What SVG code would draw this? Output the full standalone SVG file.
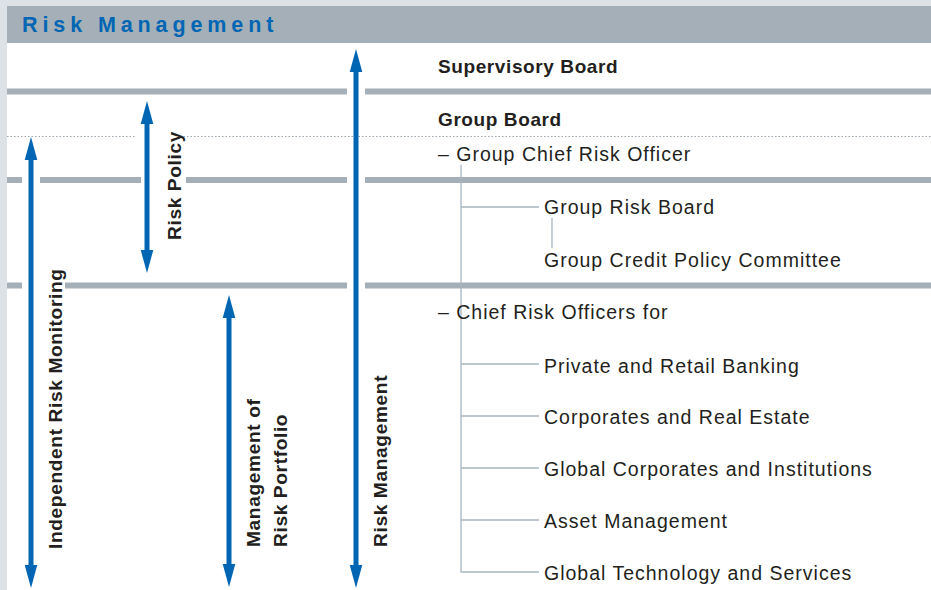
<svg xmlns="http://www.w3.org/2000/svg" width="931" height="590" viewBox="0 0 931 590">
<style>
.bar{fill:#a4afb7}
.t{font-family:"Liberation Sans",Arial,sans-serif;font-size:19.5px;fill:#231f20;letter-spacing:1px}
.b{font-weight:bold;font-size:19px;letter-spacing:0.6px}
.v{font-family:"Liberation Sans",Arial,sans-serif;font-size:19.2px;font-weight:bold;fill:#231f20;letter-spacing:0.6px}
.arr{stroke:#0066b3;stroke-width:5;fill:none}
.tree{stroke:#a8b5bf;stroke-width:1.3;fill:none}
</style>
<defs>
<marker id="ah" markerUnits="userSpaceOnUse" markerWidth="24" markerHeight="14" viewBox="0 -7 24 14" refX="0" refY="0" orient="auto-start-reverse">
<path d="M0,-6.3 L23,0 L0,6.3 Z" fill="#0066b3"/>
</marker>
</defs>
<rect width="931" height="590" fill="#dde2e6"/>
<rect x="7" y="43" width="924" height="547" fill="#ffffff"/>
<g id="header">
<rect x="7" y="6" width="924" height="37" class="bar"/>
<text x="22" y="32" font-family="Liberation Sans,Arial,sans-serif" font-size="21.5" font-weight="bold" fill="#0066b3" letter-spacing="4.9">Risk Management</text>
</g>
<g id="separators">
<rect x="7" y="88.5" width="340" height="6" class="bar"/>
<rect x="365" y="88.5" width="566" height="6" class="bar"/>
<rect x="7" y="177" width="15" height="6" class="bar"/>
<rect x="40" y="177" width="101" height="6" class="bar"/>
<rect x="186" y="177" width="161" height="6" class="bar"/>
<rect x="365" y="177" width="566" height="6" class="bar"/>
<rect x="7" y="282.5" width="15" height="6" class="bar"/>
<rect x="65" y="282.5" width="282" height="6" class="bar"/>
<rect x="365" y="282.5" width="566" height="6" class="bar"/>
<path d="M7,136.5 H135 M180,136.5 H931" stroke="#9aa6ae" stroke-width="1" stroke-dasharray="1.5 2"/>
</g>
<g id="connectors">
<line class="arr" x1="31" y1="160" x2="31" y2="565" marker-start="url(#ah)" marker-end="url(#ah)"/>
<line class="arr" x1="147" y1="124" x2="147" y2="250" marker-start="url(#ah)" marker-end="url(#ah)"/>
<line class="arr" x1="229" y1="318" x2="229" y2="564" marker-start="url(#ah)" marker-end="url(#ah)"/>
<line class="arr" x1="356" y1="72" x2="356" y2="565" marker-start="url(#ah)" marker-end="url(#ah)"/>
<path class="tree" d="M461,165 V572 H539 M461,207 H539 M552,218 V248 M461,364 H539 M461,416 H539 M461,468 H539 M461,520 H539"/>
</g>
<g id="label-independent"><text class="v" transform="translate(61.5,549) rotate(-90)">Independent Risk Monitoring</text></g>
<g id="label-policy"><text class="v" transform="translate(180.5,240) rotate(-90)" letter-spacing="-0.2">Risk Policy</text></g>
<g id="label-portfolio">
<text class="v" transform="translate(259.5,547) rotate(-90)">Management of</text>
<text class="v" transform="translate(286.5,547) rotate(-90)">Risk Portfolio</text>
</g>
<g id="label-riskmgmt"><text class="v" transform="translate(386.5,547) rotate(-90)">Risk Management</text></g>
<g id="node-supervisory"><text class="t b" x="438" y="72.5">Supervisory Board</text></g>
<g id="node-groupboard"><text class="t b" x="438" y="126">Group Board</text></g>
<g id="node-gcro"><text class="t" x="438" y="161" letter-spacing="0.8">– Group Chief Risk Officer</text></g>
<g id="node-grb"><text class="t" x="544" y="214">Group Risk Board</text></g>
<g id="node-gcpc"><text class="t" x="544" y="267">Group Credit Policy Committee</text></g>
<g id="node-cro"><text class="t" x="438" y="318.5" letter-spacing="0.8">– Chief Risk Officers for</text></g>
<g id="node-prb"><text class="t" x="544" y="373">Private and Retail Banking</text></g>
<g id="node-cre"><text class="t" x="544" y="424">Corporates and Real Estate</text></g>
<g id="node-gci"><text class="t" x="544" y="476">Global Corporates and Institutions</text></g>
<g id="node-am"><text class="t" x="544" y="528">Asset Management</text></g>
<g id="node-gts"><text class="t" x="544" y="580">Global Technology and Services</text></g>
</svg>
